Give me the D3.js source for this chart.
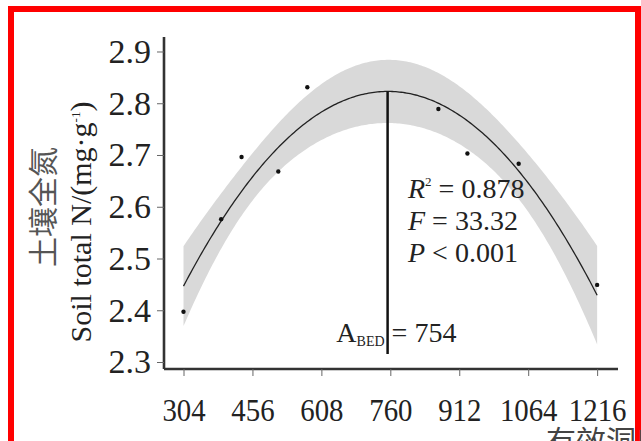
<!DOCTYPE html>
<html><head><meta charset="utf-8">
<script src="https://cdn.jsdelivr.net/npm/d3@7"></script>
<style>body{margin:0;background:#fff} svg{display:block}</style>
</head><body><svg id="c" width="641" height="441"></svg>
<script>
// ---- data ----
const xTicks = [304, 456, 608, 760, 912, 1064, 1216];
const yTicks = [2.3, 2.4, 2.5, 2.6, 2.7, 2.8, 2.9];
const densityX = [304, 387, 432, 513, 577, 866, 930, 1043, 1216];
const soilN   = [2.397, 2.576, 2.696, 2.668, 2.831, 2.789, 2.703, 2.683, 2.449];
const statsLabels = ["R", "F", "P"];
const statsSups = ["2", "", ""];
const statsValues = [" = 0.878", " = 33.32", " < 0.001"];
const abedValue = 754;
const xTitle = "有效洞口密度";
const yTitleCn = "土壤全氮";
const yTitleEn = "Soil total N/(mg·g";

// ---- quadratic least squares fit + 90% confidence band ----
const n = densityX.length;
const xm = d3.mean(densityX), xs = 100;
function basis(x){ const u=(x-xm)/xs; return [1,u,u*u]; }
const XtX = [[0,0,0],[0,0,0],[0,0,0]], Xty=[0,0,0];
densityX.forEach((x,i)=>{ const b=basis(x); for(let r=0;r<3;r++){Xty[r]+=b[r]*soilN[i]; for(let c=0;c<3;c++) XtX[r][c]+=b[r]*b[c];}});
function inv3(m){
  const [a,b,c]=m[0],[d,e,f]=m[1],[g,h,k]=m[2];
  const A=e*k-f*h,B=-(d*k-f*g),C=d*h-e*g;
  const det=a*A+b*B+c*C;
  return [[A/det,-(b*k-c*h)/det,(b*f-c*e)/det],
          [B/det,(a*k-c*g)/det,-(a*f-c*d)/det],
          [C/det,-(a*h-b*g)/det,(a*e-b*d)/det]];
}
const XtXi = inv3(XtX);
const beta = [0,1,2].map(r=>d3.sum([0,1,2],c=>XtXi[r][c]*Xty[c]));
const fit = x => { const b=basis(x); return d3.sum([0,1,2],r=>beta[r]*b[r]); };
const sse = d3.sum(densityX,(x,i)=>(soilN[i]-fit(x))**2);
const s = Math.sqrt(sse/(n-3));
const tcrit = 1.943;
const half = x => { const b=basis(x); let q=0; for(let r=0;r<3;r++)for(let c=0;c<3;c++) q+=b[r]*XtXi[r][c]*b[c]; return tcrit*s*Math.sqrt(q); };

// ---- layout ----
const svg = d3.select("#c");
const x = d3.scaleLinear().domain([261, 1262]).range([164, 618]);
const y = d3.scaleLinear().domain([2.2865, 2.928]).range([369, 37]);
const serif = "'Liberation Serif','Times New Roman',serif";

svg.append("rect").attr("x",11).attr("y",9).attr("width",627).attr("height",500)
  .attr("fill","none").attr("stroke","#ff0000").attr("stroke-width",6);

const grid = d3.range(304, 1216.01, 4);
svg.append("path").datum(grid)
  .attr("d", d3.area().x(d=>x(d)).y0(d=>y(fit(d)-half(d))).y1(d=>y(fit(d)+half(d))))
  .attr("fill","#d9d9d9");
svg.append("path").datum(grid)
  .attr("d", d3.line().x(d=>x(d)).y(d=>y(fit(d))))
  .attr("fill","none").attr("stroke","#222").attr("stroke-width",1.3);

svg.selectAll("circle.pt").data(densityX).join("circle").attr("class","pt")
  .attr("cx",d=>x(d)).attr("cy",(d,i)=>y(soilN[i])).attr("r",2.2).attr("fill","#111");

// vertical line at A_BED
svg.append("line").attr("x1",x(abedValue)).attr("x2",x(abedValue))
  .attr("y1",y(fit(abedValue))).attr("y2",354)
  .attr("stroke","#111").attr("stroke-width",2.5);

// axes
const xAxis = svg.append("g").attr("transform","translate(0,369)")
  .call(d3.axisBottom(x).tickValues(xTicks).tickFormat(d3.format("d")).tickSizeOuter(0).tickSize(7).tickPadding(22));
const yAxis = svg.append("g").attr("transform","translate(164,0)")
  .call(d3.axisLeft(y).tickValues(yTicks).tickFormat(d3.format(".1f")).tickSizeOuter(0).tickSize(7).tickPadding(6));
[xAxis,yAxis].forEach(g=>{
  g.select(".domain").attr("stroke","#333").attr("stroke-width",2.6);
  g.selectAll(".tick line").attr("stroke","#666").attr("stroke-width",1);
  g.selectAll(".tick text").attr("font-family",serif).attr("fill","#222");
});
xAxis.selectAll(".tick text").attr("font-size",32).each(function(){
  const w = this.getComputedTextLength();
  d3.select(this).attr("textLength", w*0.9).attr("lengthAdjust","spacingAndGlyphs");
});
yAxis.selectAll(".tick text").attr("font-size",34);
yAxis.select(".domain").attr("d","M0,37V369");
xAxis.select(".domain").attr("d","M164,0H618");

// stats text
statsLabels.forEach((lab,i)=>{
  const t = svg.append("text").attr("x",408).attr("y",198+i*32)
    .attr("font-family",serif).attr("font-size",28).attr("fill","#222");
  t.append("tspan").attr("font-style","italic").text(lab);
  if(statsSups[i]) t.append("tspan").attr("font-size",13).attr("dy",-12).text(statsSups[i]);
  t.append("tspan").attr("dy",statsSups[i]?12:0).text(statsValues[i]);
});

// A_BED label
const ta = svg.append("text").attr("x",x(abedValue)-3).attr("y",342).attr("text-anchor","end")
  .attr("font-family",serif).attr("font-size",28).attr("fill","#222");
ta.append("tspan").text("A");
ta.append("tspan").attr("font-size",14).attr("dy",4).text("BED");
svg.append("text").attr("x",x(abedValue)+4).attr("y",342)
  .attr("font-family",serif).attr("font-size",28).attr("fill","#222").text("= " + abedValue);

// axis titles
svg.append("text").attr("x",546).attr("y",452)
  .attr("font-family","'Noto Sans CJK SC',sans-serif").attr("font-size",30).attr("fill","#444").text(xTitle);
svg.append("text").attr("transform","translate(54,207) rotate(-90)").attr("text-anchor","middle")
  .attr("font-family","'Noto Sans CJK SC',sans-serif").attr("font-size",30).attr("fill","#555").text(yTitleCn);
const te = svg.append("text").attr("transform","translate(91,222) rotate(-90)").attr("text-anchor","middle")
  .attr("font-family",serif).attr("font-size",30).attr("fill","#222");
te.append("tspan").text(yTitleEn);
te.append("tspan").attr("font-size",13).attr("dy",-11).text("-1");
te.append("tspan").attr("dy",11).text(")");
</script></body></html>
